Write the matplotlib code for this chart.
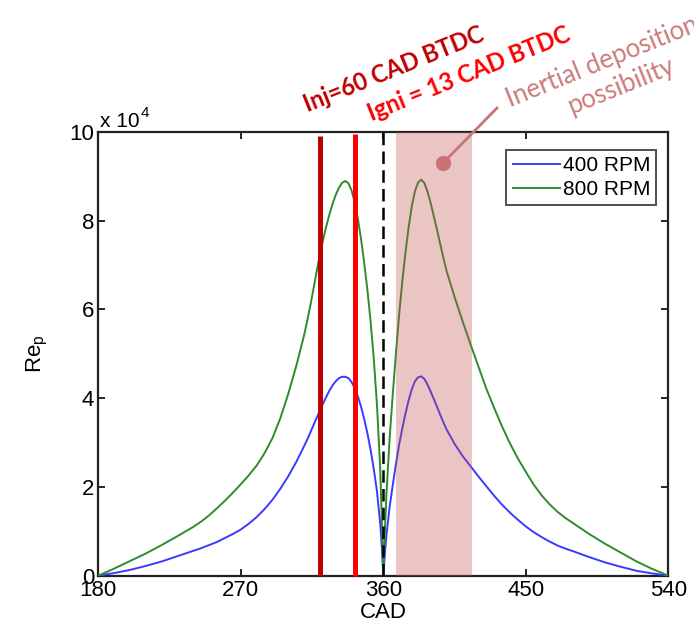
import matplotlib
matplotlib.use("Agg")
import matplotlib.pyplot as plt

# ---- data (Re_p in units of 1e4) ----
cad = [180, 190, 200, 210, 220, 230, 240,
       245, 250, 255, 260, 265, 270, 275, 280, 285, 290, 295, 300, 305, 310,
       312, 314, 316, 318, 320, 322, 324, 326, 328, 330, 332, 334, 336, 338, 340, 342,
       344, 346, 348, 350, 352, 354, 356, 358,
       359, 360, 361,
       362, 364, 366, 368, 370, 372, 374, 376, 378, 380, 382, 384, 386, 388, 390, 392,
       394, 396, 398, 400,
       405, 410, 415, 420, 425, 430, 435, 440, 445, 450, 455, 460, 465, 470, 475, 480,
       490, 500, 510, 520, 530, 540]
re_800 = [0.00, 0.16, 0.33, 0.50, 0.69, 0.89, 1.10,
          1.22, 1.36, 1.52, 1.69, 1.87, 2.06, 2.26, 2.48, 2.76, 3.10, 3.55, 4.10, 4.72, 5.42,
          5.75, 6.10, 6.48, 6.87, 7.25, 7.57, 7.87, 8.14, 8.38, 8.58, 8.74, 8.85, 8.89, 8.84,
          8.67, 8.40, 8.03, 7.57, 7.03, 6.42, 5.72, 4.88, 3.85, 2.45,
          1.35, 0.00, 1.00,
          1.85, 3.10, 4.10, 5.02, 5.88, 6.62, 7.28, 7.85, 8.32, 8.66, 8.86, 8.92, 8.84, 8.64,
          8.38, 8.08, 7.78, 7.46, 7.15, 6.86,
          6.28, 5.74, 5.22, 4.72, 4.22, 3.78, 3.36, 2.98, 2.64, 2.34, 2.05, 1.81, 1.61, 1.44,
          1.30, 1.18,
          0.94, 0.72, 0.52, 0.32, 0.15, 0.00]
re_400 = [0.00, 0.06, 0.13, 0.22, 0.32, 0.44, 0.56,
          0.62, 0.69, 0.76, 0.85, 0.94, 1.04, 1.17, 1.32, 1.50, 1.71, 1.96, 2.24, 2.56, 2.92,
          3.07, 3.23, 3.40, 3.56, 3.72, 3.88, 4.03, 4.17, 4.29, 4.38, 4.45, 4.48, 4.48, 4.45,
          4.36, 4.22, 4.03, 3.80, 3.52, 3.20, 2.83, 2.40, 1.90, 1.20,
          0.68, 0.00, 0.50,
          0.92, 1.55, 2.05, 2.52, 2.95, 3.32, 3.65, 3.95, 4.20, 4.38, 4.47, 4.49, 4.43, 4.30,
          4.14, 3.97, 3.80, 3.62, 3.45, 3.29,
          2.97, 2.70, 2.47, 2.24, 2.02, 1.80, 1.60, 1.42, 1.26, 1.11, 0.98, 0.87, 0.77, 0.68,
          0.61, 0.55,
          0.42, 0.30, 0.20, 0.11, 0.05, 0.00]
series_labels = ["400 RPM", "800 RPM"]
x_ticks = [180, 270, 360, 450, 540]
y_ticks = [0, 2, 4, 6, 8, 10]
inj_cad = 320
igni_cad = 342
tdc_cad = 360
zone = (368, 416)

W, H = 694, 636
fig = plt.figure(figsize=(W / 100, H / 100), dpi=100)
ax = fig.add_axes([98.3 / W, 1 - 575.7 / H, 570 / W, 444 / H])

font = "Liberation Sans"
ax.plot(cad, re_400, color="#3a3aff", lw=1.4, label=series_labels[0], zorder=3)
ax.plot(cad, re_800, color="#2e8b2e", lw=1.4, label=series_labels[1], zorder=3)

ax.axvspan(zone[0], zone[1], color="#c0504d", alpha=0.33, lw=0, zorder=4)
ax.axvline(tdc_cad, color="black", lw=1.8, ls=(0, (5, 2.5)), zorder=5)
ax.plot([inj_cad, inj_cad], [0, 9.9], color="#c00000", lw=3.6, zorder=6, clip_on=False,
        solid_capstyle="butt")
ax.plot([igni_cad, igni_cad], [0, 9.95], color="#ff0000", lw=3.6, zorder=6, clip_on=False,
        solid_capstyle="butt")

ax.set_xlim(180, 540)
ax.set_ylim(0, 10)
ax.set_xticks(x_ticks)
ax.set_xticklabels([str(t) for t in x_ticks], fontsize=16, family=font)
ax.set_yticks(y_ticks)
ax.set_yticklabels([str(t) for t in y_ticks], fontsize=16, family=font)
ax.tick_params(direction="in", length=5, width=1.2, top=True, right=True, pad=3)
for s in ax.spines.values():
    s.set_linewidth(1.6)
    s.set_color("#222222")

ax.set_xlabel("CAD", fontsize=16, family=font, labelpad=1)
ax.set_ylabel(r"Re$_\mathregular{p}$", fontsize=16, family=font, labelpad=14)

leg = ax.legend(loc="upper right", bbox_to_anchor=(1 - 12 / 570, 1 - 18 / 444),
                prop={"family": font, "size": 15}, frameon=True, fancybox=False,
                borderaxespad=0, handlelength=2.3, handletextpad=0.1, borderpad=0.3,
                labelspacing=0.25)
leg.get_frame().set_edgecolor("#222222")
leg.get_frame().set_linewidth(1.4)
leg.set_zorder(10)

# offset text x 10^4
fig.text(100 / W, 1 - 127 / H, "x 10", fontsize=15, family=font, ha="left", va="baseline")
fig.text(141 / W, 1 - 117 / H, "4", fontsize=11, family=font, ha="left", va="baseline")

# rotated annotations
ang = 22
fig.text(308 / W, 1 - 112 / H, "Inj=60 CAD BTDC", color="#c00000", fontsize=17,
         family="Lato", weight="bold", rotation=ang, rotation_mode="anchor",
         ha="left", va="baseline")
fig.text(372 / W, 1 - 121 / H, "Igni = 13 CAD BTDC", color="#ff0000", fontsize=17,
         family="Lato", weight="bold", rotation=ang, rotation_mode="anchor",
         ha="left", va="baseline")
fig.text(510 / W, 1 - 107 / H, "Inertial deposition", color="#cc7b7b", fontsize=18.5,
         family="Lato", rotation=ang, rotation_mode="anchor", ha="left", va="baseline")
fig.text(571 / W, 1 - 114 / H, "possibility", color="#cc7b7b", fontsize=18.5,
         family="Lato", rotation=ang, rotation_mode="anchor", ha="left", va="baseline")

# pointer line with dot
fig.add_artist(plt.Line2D([443 / W, 497 / W], [1 - 163 / H, 1 - 108 / H],
                          transform=fig.transFigure, color="#c87474", lw=2))
fig.add_artist(plt.Line2D([443 / W], [1 - 163 / H], transform=fig.transFigure,
                          marker="o", ms=10, color="#c87474", lw=0))

fig.savefig("out.png", dpi=100)
